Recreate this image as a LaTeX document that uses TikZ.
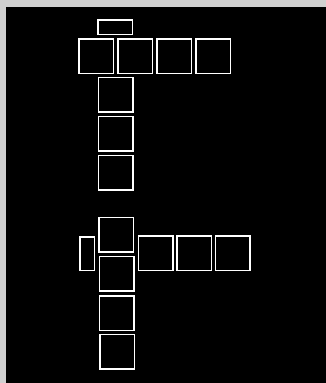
\documentclass[tikz,border=0pt]{standalone}
\usepackage{tikz}
\definecolor{framegray}{HTML}{D0D0D0}
\tikzset{
  cell/.style={draw=white, line width=1.5pt, inner sep=0pt, minimum width=34.5pt, minimum height=34.5pt},
  capcell/.style={cell, minimum width=34.5pt, minimum height=14.5pt},
  sidecell/.style={cell, minimum width=14.5pt, minimum height=33.8pt}
}
\begin{document}
\begin{tikzpicture}[x=1pt,y=-1pt]
\useasboundingbox (0,0) rectangle (326,383);
\fill[framegray] (0,0) rectangle (326,383);
\fill[black] (6,7) rectangle (326,383);
% upper figure
\node[capcell] (t0) at (115.2,27.3) {};
\node[cell] (r1) at (96,56) {};
\node[cell] (r2) at (135.3,56) {};
\node[cell] (r3) at (174.2,56) {};
\node[cell] (r4) at (213.3,56) {};
\node[cell] (c1) at (115.5,94.5) {};
\node[cell] (c2) at (115.5,133.5) {};
\node[cell] (c3) at (115.5,172.8) {};
% lower figure
\node[cell] (b0) at (116.3,234.7) {};
\node[sidecell] (bl) at (87.3,253.7) {};
\node[cell] (br1) at (155.7,253.2) {};
\node[cell] (br2) at (194.2,253.2) {};
\node[cell] (br3) at (232.7,253.2) {};
\node[cell] (bc2) at (116.5,273.5) {};
\node[cell] (bc3) at (116.8,313) {};
\node[cell] (bc4) at (117,351.8) {};
\end{tikzpicture}
\end{document}
